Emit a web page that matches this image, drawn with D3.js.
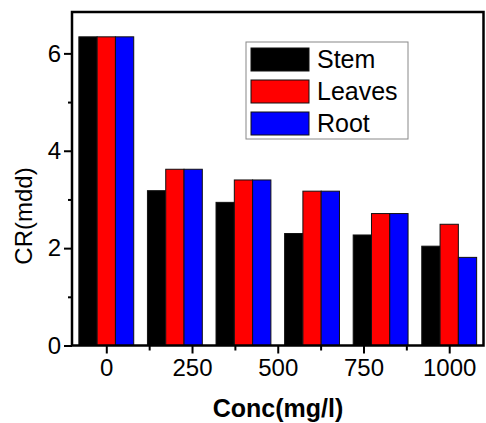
<!DOCTYPE html>
<html>
<head>
<meta charset="utf-8">
<script src="https://cdn.jsdelivr.net/npm/d3@7"></script>
<style>
  html, body { margin: 0; padding: 0; background: #fff; }
  svg { display: block; font-family: "Liberation Sans", Arial, sans-serif; }
</style>
</head>
<body>
<svg id="chart" width="486" height="423"></svg>
<script>
// Bar groups sit on a linear concentration axis (0..1000 step 200)
const concs = [0, 200, 400, 600, 800, 1000];
const stem = [6.34, 3.18, 2.94, 2.30, 2.27, 2.04];
const leaves = [6.34, 3.62, 3.40, 3.17, 2.71, 2.49];
const root = [6.34, 3.62, 3.40, 3.17, 2.71, 1.81];

const seriesNames = ["Stem", "Leaves", "Root"];
const seriesColors = ["#000000", "#ff0000", "#0000ff"];

const xMajor = [0, 250, 500, 750, 1000];
const xMinor = [125, 375, 625, 875];
const yMajor = [0, 2, 4, 6];
const yMinor = [1, 3, 5];

const W = 486, H = 423;
const m = { left: 72, top: 12, right: 2.5, bottom: 77.5 };

const svg = d3.select("#chart");

const x = d3.scaleLinear().domain([-100, 1100]).range([m.left, W - m.right]);
const y = d3.scaleLinear().domain([0, 6.85]).range([H - m.bottom, m.top]);

// each group is 160 units wide, three bars of equal width
const groupW = 160;
const barW = groupW / 3;

const series = [stem, leaves, root];
const bars = [];
series.forEach((vals, si) => {
  vals.forEach((v, i) => {
    bars.push({ c: concs[i], v, si });
  });
});

svg.append("g")
  .selectAll("rect")
  .data(bars)
  .join("rect")
  .attr("x", d => x(d.c - groupW / 2 + d.si * barW))
  .attr("width", d => x(barW) - x(0))
  .attr("y", d => y(d.v))
  .attr("height", d => y(0) - y(d.v))
  .attr("fill", d => seriesColors[d.si])
  .attr("stroke", "#111")
  .attr("stroke-width", 1);

// axes
svg.append("g")
  .attr("transform", `translate(0,${y(0)})`)
  .call(d3.axisBottom(x).tickValues(xMajor).tickSize(8).tickPadding(5).tickFormat(d3.format("d")));
svg.append("g")
  .attr("transform", `translate(0,${y(0)})`)
  .call(d3.axisBottom(x).tickValues(xMinor).tickSize(5).tickFormat(""));

svg.append("g")
  .attr("transform", `translate(${m.left},0)`)
  .call(d3.axisLeft(y).tickValues(yMajor).tickSize(8).tickPadding(3).tickFormat(d3.format("d")));
svg.append("g")
  .attr("transform", `translate(${m.left},0)`)
  .call(d3.axisLeft(y).tickValues(yMinor).tickSize(4).tickFormat(""));

svg.selectAll(".tick line").attr("stroke", "#000").attr("stroke-width", 2);
svg.selectAll(".domain").remove();
svg.selectAll(".tick text")
  .attr("fill", "#000")
  .style("font-size", "24px");

// frame
svg.append("rect")
  .attr("x", x.range()[0])
  .attr("y", y.range()[1])
  .attr("width", x.range()[1] - x.range()[0])
  .attr("height", y.range()[0] - y.range()[1])
  .attr("fill", "none")
  .attr("stroke", "#000")
  .attr("stroke-width", 2.5);

// axis titles
svg.append("text")
  .attr("transform", "translate(32,216) rotate(-90)")
  .attr("text-anchor", "middle")
  .style("font-size", "24px")
  .text("CR(mdd)");

svg.append("text")
  .attr("x", 278)
  .attr("y", 417)
  .attr("text-anchor", "middle")
  .style("font-size", "25px")
  .style("font-weight", "bold")
  .text("Conc(mg/l)");

// legend
const leg = svg.append("g").attr("transform", "translate(246,42)");
leg.append("rect")
  .attr("width", 162).attr("height", 97)
  .attr("fill", "#fff")
  .attr("stroke", "#888")
  .attr("stroke-width", 1);
const item = leg.selectAll("g.item")
  .data(seriesNames)
  .join("g")
  .attr("class", "item")
  .attr("transform", (d, i) => `translate(5,${6 + i * 32})`);
item.append("rect")
  .attr("width", 58).attr("height", 23)
  .attr("fill", (d, i) => seriesColors[i])
  .attr("stroke", "#111");
item.append("text")
  .attr("x", 66).attr("y", 20)
  .style("font-size", "25px")
  .text(d => d);
</script>
</body>
</html>
